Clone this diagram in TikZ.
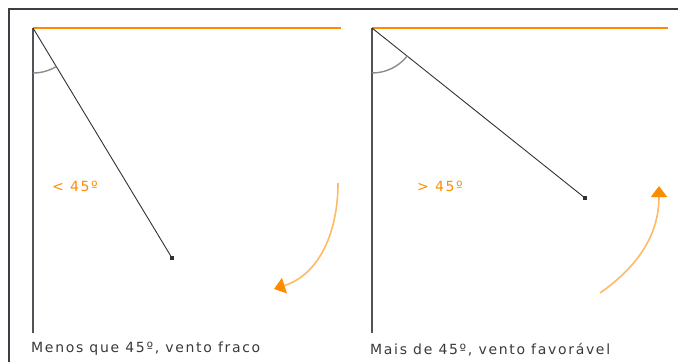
\documentclass[tikz,border=0pt]{standalone}
\usepackage{fontspec}
\setmainfont{DejaVu Sans}
\newfontfamily\widesans[LetterSpace=12]{DejaVu Sans}
\usetikzlibrary{arrows.meta}
\usepackage{xcolor}
\definecolor{framefg}{HTML}{3A3F45}
\definecolor{axisfg}{HTML}{505459}
\definecolor{pointerfg}{HTML}{2E3238}
\definecolor{windorange}{HTML}{FF8C00}
\definecolor{arcgray}{HTML}{8C8C8C}
\definecolor{captionfg}{HTML}{3A3A3A}

\tikzset{
  axisline/.style={line width=1.6pt, axisfg},
  horizon/.style={line width=1.6pt, windorange},
  pointer/.style={line width=0.9pt, pointerfg},
  tipdot/.style={rectangle, fill=pointerfg, minimum size=3.5pt, inner sep=0pt},
  anglearc/.style={line width=1.4pt, arcgray},
  anglelabel/.style={font=\widesans\fontsize{14}{16}\selectfont, text=windorange},
  caption/.style={font=\widesans\fontsize{14}{16}\selectfont, text=captionfg, anchor=base west, inner sep=0pt},
  swing/.style={line width=1.6pt, windorange!60,
    -{Triangle[length=11pt, width=16pt, color=windorange]}},
}

\begin{document}
\begin{tikzpicture}[x=1pt, y=1pt]
  \useasboundingbox (0,0) rectangle (678,-362);

  % --- frame ---
  \coordinate (frameR) at (678,-9);
  \coordinate (frameC) at (9,-9);
  \coordinate (frameB) at (9,-362);
  \draw[line width=2pt, framefg] (frameR) -- (frameC) -- (frameB);

  % --- left panel: less than 45 degrees ---
  \coordinate (apexA) at (33,-28);
  \coordinate (horizA) at (341,-28);
  \coordinate (baseA) at (33,-333);
  \node[tipdot] (tipA) at (172,-258) {};
  \draw[axisline] (apexA) -- (baseA);
  \draw[horizon] (apexA) -- (horizA);
  \draw[pointer] (apexA) -- (tipA);
  \draw[anglearc] ([shift={(-90:45)}]apexA) arc[start angle=-90, end angle=-58.9, radius=45];
  \node[anglelabel] (angA) at (75,-186) {< 45º};
  \coordinate (swingA1) at (338,-183);
  \coordinate (swingA2) at (274,-289);
  \draw[swing] (swingA1) to[out=-90, in=18] (swingA2);
  \node[caption] (capA) at (31,-352) {Menos que 45º, vento fraco};

  % --- right panel: more than 45 degrees ---
  \coordinate (apexB) at (372,-28);
  \coordinate (horizB) at (668,-28);
  \coordinate (baseB) at (372,-333);
  \node[tipdot] (tipB) at (585,-198) {};
  \draw[axisline] (apexB) -- (baseB);
  \draw[horizon] (apexB) -- (horizB);
  \draw[pointer] (apexB) -- (tipB);
  \draw[anglearc] ([shift={(-90:45)}]apexB) arc[start angle=-90, end angle=-38.6, radius=45];
  \node[anglelabel] (angB) at (440,-186) {> 45º};
  \coordinate (swingB1) at (600,-293);
  \coordinate (swingB2) at (659,-186);
  \draw[swing] (swingB1) to[out=35, in=-90] (swingB2);
  \node[caption] (capB) at (370,-354) {Mais de 45º, vento favorável};
\end{tikzpicture}
\end{document}
